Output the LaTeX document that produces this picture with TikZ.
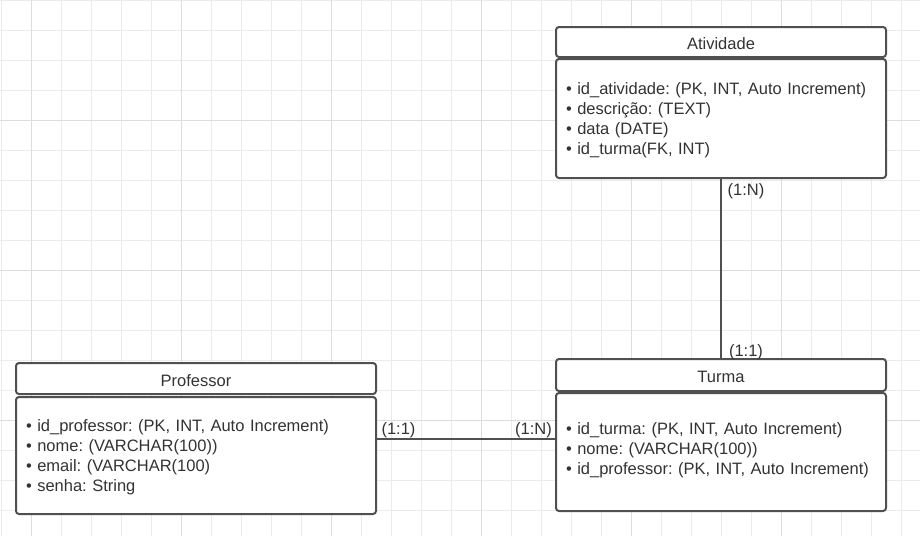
\documentclass[tikz,border=0pt]{standalone}
\usepackage{fontspec}
\setmainfont{Liberation Sans}
\usepackage{xcolor}
\usepackage{tikz}
\usetikzlibrary{calc}
\frenchspacing
\definecolor{gridminor}{HTML}{EBEBEB}
\definecolor{gridmajor}{HTML}{DDDDDD}
\definecolor{edge}{HTML}{505050}
\definecolor{ink}{HTML}{333333}
\newcommand{\topstrut}{\rule{0pt}{15.8pt}}
\newcommand{\botstrut}{\rule[-7.5pt]{0pt}{0pt}}
\tikzset{
  minorline/.style={draw=gridminor, line width=1pt},
  majorline/.style={draw=gridmajor, line width=1pt},
  head/.style={draw=edge, line width=2pt, rounded corners=3pt, fill=white, inner sep=0pt,
    text height=15.8pt, text depth=0pt, text=ink, font=\fontsize{16.5}{20}\selectfont},
  body/.style={draw=edge, line width=2pt, rounded corners=3pt, fill=white, inner xsep=10pt,
    inner ysep=0pt, align=left, text=ink, font=\fontsize{16.5}{20}\selectfont},
  link/.style={draw=edge, line width=2pt},
  lab/.style={text=ink, inner sep=0pt, font=\fontsize{16.5}{20}\selectfont},
}

\begin{document}
\begin{tikzpicture}[x=1pt, y=-1pt]
\useasboundingbox (0,0) rectangle (920,536);
\fill[white] (0,0) rectangle (920,536);
% grid
\foreach \x in {1,31,...,901} \draw[minorline] (\x,0) -- (\x,536);
\foreach \y in {0,30,...,530} \draw[minorline] (0,\y) -- (920,\y);
\foreach \x in {31,181,...,781} \draw[majorline] (\x,0) -- (\x,536);
\foreach \y in {120,270,420} \draw[majorline] (0,\y) -- (920,\y);

% Atividade
\node[head, minimum width=330pt, minimum height=30pt] (ativHead) at (721,42) {Atividade};
\node[body, text width=310pt, minimum height=119pt] (ativBody) at (721,118.5) {%
  \topstrut• id\_atividade: (PK, INT, Auto Increment)\\
  • descrição: (TEXT)\\
  • data (DATE)\\
  • id\_turma(FK, INT)};

% Professor
\node[head, minimum width=360pt, minimum height=31pt] (profHead) at (196,378.5) {Professor};
\node[body, text width=340pt, minimum height=117pt] (profBody) at (196,455.5) {%
  \topstrut• id\_professor: (PK, INT, Auto Increment)\\
  • nome: (VARCHAR(100))\\
  • email: (VARCHAR(100)\\
  • senha: String};

% Turma
\node[head, minimum width=330pt, minimum height=32pt] (turmaHead) at (721,375) {Turma};
\node[body, text width=310pt, minimum height=118pt] (turmaBody) at (721,452) {%
  • id\_turma: (PK, INT, Auto Increment)\\
  • nome: (VARCHAR(100))\\
  • id\_professor: (PK, INT, Auto Increment)\botstrut};

% relacoes
\draw[link] (ativBody.south) -- (turmaHead.north);
\draw[link] (profBody.east |- 0,439) -- (turmaBody.west |- 0,439);
\node[lab] (cardAtivN) at (746,191) {(1:N)};
\node[lab] (cardTurma1) at (746,352) {(1:1)};
\node[lab] (cardProf1) at (398.5,430) {(1:1)};
\node[lab] (cardTurmaN) at (533.5,430) {(1:N)};
\end{tikzpicture}
\end{document}
